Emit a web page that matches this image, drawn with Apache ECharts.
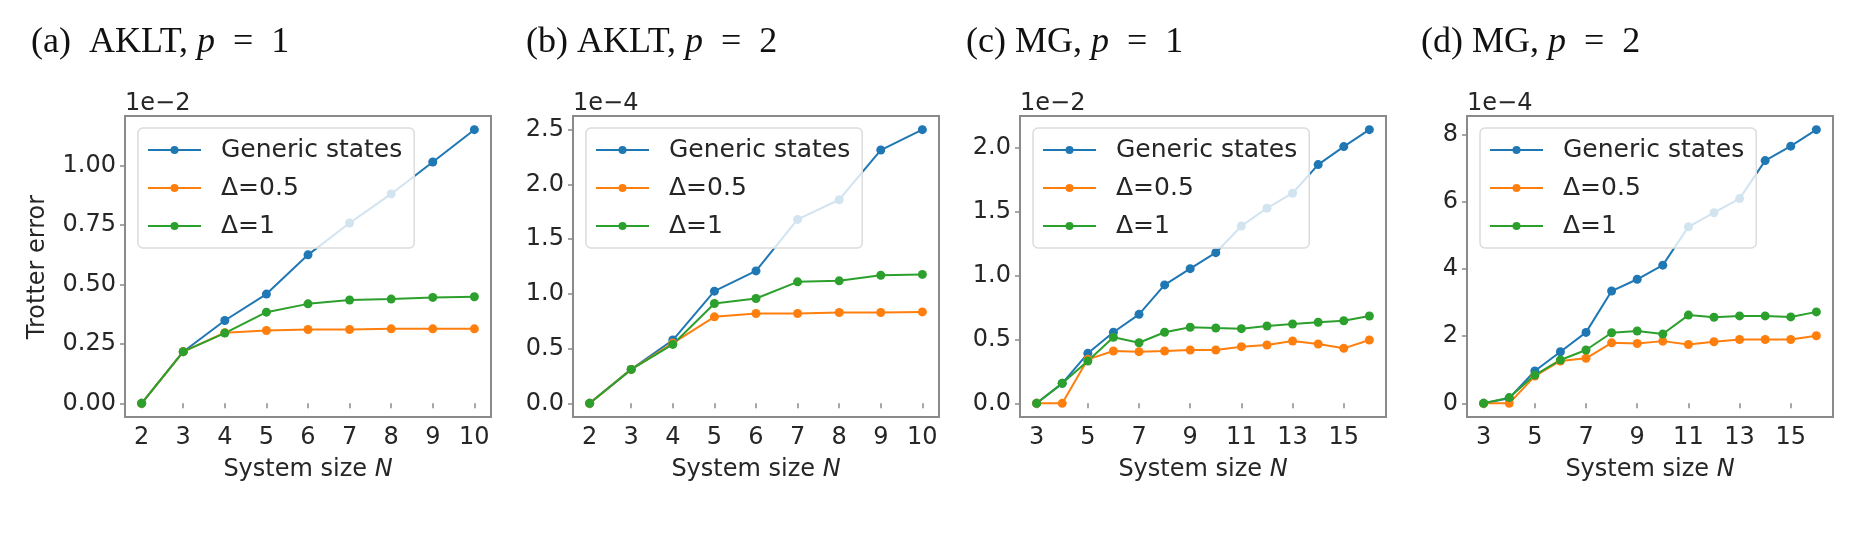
<!DOCTYPE html>
<html>
<head>
<meta charset="utf-8">
<script src="https://cdn.jsdelivr.net/npm/echarts@6/dist/echarts.min.js"></script>
<style>
  html, body { margin: 0; padding: 0; background: #fff; }
  #chart { width: 1863px; height: 543px; }
</style>
</head>
<body>
<div id="chart"></div>
<script>
// system sizes
const nAKLT = [2, 3, 4, 5, 6, 7, 8, 9, 10];
const nMG = [3, 4, 5, 6, 7, 8, 9, 10, 11, 12, 13, 14, 15, 16];

// (a) AKLT, p=1  (units of 1e-2)
const aGeneric = [0, 0.217, 0.348, 0.459, 0.624, 0.758, 0.88, 1.014, 1.15];
const aHalf    = [0, 0.217, 0.297, 0.306, 0.31, 0.31, 0.313, 0.313, 0.313];
const aOne     = [0, 0.217, 0.295, 0.383, 0.418, 0.434, 0.438, 0.445, 0.448];

// (b) AKLT, p=2  (units of 1e-4)
const bGeneric = [0, 0.31, 0.578, 1.025, 1.21, 1.68, 1.86, 2.314, 2.5];
const bHalf    = [0, 0.31, 0.55, 0.79, 0.821, 0.821, 0.83, 0.83, 0.835];
const bOne     = [0, 0.31, 0.538, 0.912, 0.958, 1.11, 1.119, 1.17, 1.178];

// (c) MG, p=1  (units of 1e-2)
const cGeneric = [0, 0.156, 0.391, 0.556, 0.696, 0.926, 1.053, 1.178, 1.387, 1.526, 1.643, 1.867, 2.008, 2.14];
const cHalf    = [0, 0, 0.344, 0.409, 0.404, 0.409, 0.417, 0.417, 0.443, 0.456, 0.487, 0.464, 0.43, 0.495];
const cOne     = [0, 0.156, 0.331, 0.516, 0.474, 0.556, 0.595, 0.589, 0.584, 0.605, 0.62, 0.634, 0.646, 0.683];

// (d) MG, p=2  (units of 1e-4)
const dGeneric = [0, 0.15, 0.96, 1.535, 2.11, 3.34, 3.69, 4.11, 5.25, 5.67, 6.09, 7.22, 7.65, 8.14];
const dHalf    = [0, 0, 0.81, 1.26, 1.34, 1.8, 1.78, 1.85, 1.75, 1.83, 1.9, 1.9, 1.9, 2.01];
const dOne     = [0, 0.17, 0.84, 1.29, 1.585, 2.1, 2.15, 2.06, 2.625, 2.56, 2.6, 2.6, 2.57, 2.72];

const seriesNames = ['Generic states', 'Δ=0.5', 'Δ=1'];

// tick values / labels
const xTicksAKLT = [2, 3, 4, 5, 6, 7, 8, 9, 10];
const xTicksMG = [3, 5, 7, 9, 11, 13, 15];
const yTicksA = [0, 0.25, 0.5, 0.75, 1.0];
const yLabelsA = ['0.00', '0.25', '0.50', '0.75', '1.00'];
const yTicksB = [0, 0.5, 1.0, 1.5, 2.0, 2.5];
const yLabelsB = ['0.0', '0.5', '1.0', '1.5', '2.0', '2.5'];
const yTicksC = [0, 0.5, 1.0, 1.5, 2.0];
const yLabelsC = ['0.0', '0.5', '1.0', '1.5', '2.0'];
const yTicksD = [0, 2, 4, 6, 8];
const yLabelsD = ['0', '2', '4', '6', '8'];

const titles = ['(a)  AKLT, ', '(b) AKLT, ', '(c) MG, ', '(d) MG, '];
const titleP = ['1', '2', '1', '2'];
const offsets = ['1e\u22122', '1e\u22124', '1e\u22122', '1e\u22124'];

const colors = ['#1f77b4', '#ff7f0e', '#2ca02c'];
const textColor = '#262626';
const frameColor = '#8a8a8a';
const font = 'DejaVu Sans';

const panels = [
  { n: nAKLT, ys: [aGeneric, aHalf, aOne], xt: xTicksAKLT, yt: yTicksA, yl: yLabelsA },
  { n: nAKLT, ys: [bGeneric, bHalf, bOne], xt: xTicksAKLT, yt: yTicksB, yl: yLabelsB },
  { n: nMG, ys: [cGeneric, cHalf, cOne], xt: xTicksMG, yt: yTicksC, yl: yLabelsC },
  { n: nMG, ys: [dGeneric, dHalf, dOne], xt: xTicksMG, yt: yTicksD, yl: yLabelsD }
];

const gridLeft = [125, 573, 1020, 1467];
const gridW = 366;
const gridTop = 116;
const gridH = 301;
const titleLeft = [26, 521, 961, 1416];

// matplotlib style 5% margins
function pad(lo, hi) {
  const d = (hi - lo) * 0.05;
  return [lo - d, hi + d];
}

let grid = [], xAxis = [], yAxis = [], series = [], legend = [], title = [];

panels.forEach(function (p, i) {
  grid.push({
    left: gridLeft[i], top: gridTop, width: gridW, height: gridH,
    show: true, borderColor: frameColor, borderWidth: 2, backgroundColor: '#fff'
  });

  const xr = pad(p.n[0], p.n[p.n.length - 1]);
  let all = [].concat(p.ys[0], p.ys[1], p.ys[2]);
  const yr = pad(Math.min.apply(null, all), Math.max.apply(null, all));

  xAxis.push({
    type: 'value', gridIndex: i, min: xr[0], max: xr[1],
    splitLine: { show: false },
    axisLine: { show: false },
    axisTick: { show: true, length: 5, customValues: p.xt, lineStyle: { color: frameColor, width: 1.5 } },
    axisLabel: {
      customValues: p.xt, color: textColor, fontFamily: font, fontSize: 24, margin: 9
    },
    name: 'System size {i|N}', nameLocation: 'middle', nameGap: 41,
    nameTextStyle: {
      color: textColor, fontFamily: font, fontSize: 24,
      rich: { i: { fontStyle: 'italic', fontFamily: font, fontSize: 24, color: textColor } }
    }
  });

  yAxis.push({
    type: 'value', gridIndex: i, min: yr[0], max: yr[1],
    splitLine: { show: false },
    axisLine: { show: false },
    axisTick: { show: true, length: 5, customValues: p.yt, lineStyle: { color: frameColor, width: 1.5 } },
    axisLabel: {
      customValues: p.yt, color: textColor, fontFamily: font, fontSize: 24, margin: 9,
      formatter: function (v) {
        let k = p.yt.findIndex(function (t) { return Math.abs(t - v) < 1e-9; });
        return k >= 0 ? p.yl[k] : '';
      }
    },
    name: offsets[i], nameLocation: 'end', nameGap: 0,
    nameTextStyle: { color: textColor, fontFamily: font, fontSize: 24, align: 'left', verticalAlign: 'bottom' }
  });

  p.ys.forEach(function (vals, s) {
    series.push({
      name: seriesNames[s], type: 'line', xAxisIndex: i, yAxisIndex: i,
      data: p.n.map(function (x, k) { return [x, vals[k]]; }),
      symbol: 'circle', symbolSize: 9, showSymbol: true,
      lineStyle: { color: colors[s], width: 2 },
      itemStyle: { color: colors[s] },
      z: 2
    });
  });

  legend.push({
    data: seriesNames, orient: 'vertical',
    left: gridLeft[i] + 13, top: gridTop + 12,
    itemWidth: 53, itemHeight: 10, itemGap: 10,
    padding: [8, 12, 8, 9],
    backgroundColor: 'rgba(255,255,255,0.8)',
    borderColor: '#dcdcdc', borderWidth: 1.5, borderRadius: 5,
    textStyle: { color: textColor, fontFamily: font, fontSize: 25, lineHeight: 28, padding: [0, 0, 0, 15] },
    selectedMode: false, z: 4
  });

  title.push({
    left: titleLeft[i], top: 20,
    text: titles[i] + '{i|p}\u2002=\u2002' + titleP[i],
    textStyle: {
      color: '#111', fontFamily: 'Liberation Serif', fontSize: 36, fontWeight: 'normal',
      rich: { i: { fontStyle: 'italic', fontFamily: 'Liberation Serif', fontSize: 36, color: '#111' } }
    }
  });
});

let chart = echarts.init(document.getElementById('chart'), null, { renderer: 'canvas' });
chart.setOption({
  backgroundColor: '#fff',
  animation: false,
  title: title,
  grid: grid,
  xAxis: xAxis,
  yAxis: yAxis,
  legend: legend,
  series: series,
  graphic: [{
    type: 'text', x: 38, y: 267, rotation: Math.PI / 2,
    style: {
      text: 'Trotter error', fill: textColor, font: '24px "DejaVu Sans"',
      textAlign: 'center', textVerticalAlign: 'middle'
    }
  }]
});
</script>
</body>
</html>
